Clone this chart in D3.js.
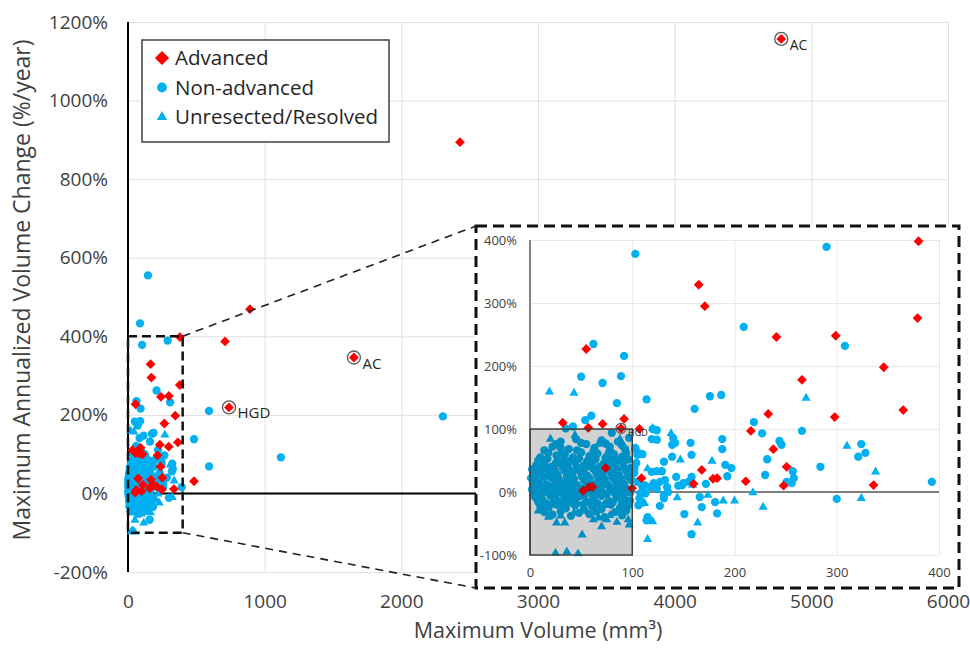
<!DOCTYPE html>
<html>
<head>
<meta charset="utf-8">
<script src="https://cdn.jsdelivr.net/npm/d3@7"></script>
<style>
  body { margin: 0; background: #ffffff; }
  svg text { font-family: 'Open Sans', sans-serif; fill: #404040; }
</style>
</head>
<body>
<div id="chart"></div>
<script>
// ---- data: [max volume (mm3), max annualized volume change (%/year)]
const advancedMain = [[4780, 1157], [2429, 894], [1653, 346], [739, 219], [892, 469], [710, 387], [483, 31]];
const advancedSmall = [
  [55, 227], [165, 329], [171, 295], [380, 398], [379, 276], [241, 246], [299, 248], [346, 198],
  [266, 178], [233, 124], [298, 119], [365, 130], [238, 68], [251, 40], [248, 10], [336, 11],
  [216, 97], [211, 17], [168, 35], [179, 21], [183, 22], [160, 13], [109, 22], [100, 6],
  [107, 100], [32, 110], [57, 102], [71, 108], [92, 116], [89, 101], [74, 38], [52, 2], [58, 8], [61, 8]
];

const nonAdvancedMain = [[146, 555], [88, 433], [593, 210], [483, 138], [1119, 92], [593, 69], [2304, 196]];
const nonAdvancedSmall = [
  [103, 378], [290, 389], [62, 235], [92, 216], [209, 262], [308, 232], [50, 183], [71, 173], [89, 184],
  [85, 141], [114, 147], [161, 132], [176, 152], [187, 154], [42, 104], [54, 114], [60, 121], [80, 94], [35, 101],
  [219, 111], [227, 93], [266, 97], [244, 81], [246, 75], [232, 52], [230, 27], [257, 33], [258, 22], [256, 14],
  [251, 16], [284, 40], [324, 76], [328, 62], [321, 56], [393, 16], [300, -11],
  [188, 84], [188, 68], [191, 43], [197, 38], [193, 25], [183, -34],
  [120, 100], [124, 98], [119, 84], [124, 83], [140, 86], [142, 78], [139, 75], [157, 78], [158, 59], [139, 56], [131, 48],
  [110, 60], [106, 62], [103, 68], [104, 46], [102, 37], [119, 32], [124, 33], [129, 33], [143, 24], [150, 14],
  [155, 16], [158, 24], [132, 19], [127, 16], [134, 8], [135, 0], [131, -5],
  [121, 14], [118, 8], [124, 5], [112, 11], [110, 8], [113, -2], [145, 10], [149, 11], [172, 13], [166, -8],
  [168, -24], [181, -16], [131, -10], [127, -22], [106, -21], [115, -40], [114, -45], [151, -35], [158, -67],
  [103, 70], [105, 59], [102, 30], [105, 16], [107, -10], [110, -17], [108, -2]
];
// dense cloud under 100 mm3
const nonAdvancedBox = [
  [22, 72], [30, 80], [38, 68], [45, 84], [55, 76], [63, 70], [70, 82], [78, 72], [86, 80], [93, 68], [97, 86],
  [26, 76], [50, 78], [74, 77], [90, 74],
  [14, 66], [30, 70], [46, 66], [62, 64], [78, 66], [94, 62],
  [10, 55], [18, 62], [26, 58], [34, 60], [42, 55], [50, 63], [58, 57], [66, 61], [74, 54], [82, 60], [90, 56], [96, 52],
  [8, 50], [17, 53], [25, 45], [33, 52], [40, 50], [48, 53], [56, 49], [64, 52], [72, 45], [80, 52], [87, 50],
  [6, 42], [14, 46], [21, 40], [29, 48], [36, 43], [44, 47], [52, 41], [60, 45], [68, 40], [75, 48], [83, 43], [91, 46], [98, 38],
  [2, 36], [9, 38], [17, 37], [24, 35], [32, 39], [38, 37], [46, 38], [53, 36], [61, 38], [67, 36], [77, 38], [85, 36], [92, 38],
  [4, 30], [11, 27], [19, 33], [27, 28], [34, 34], [41, 29], [49, 32], [56, 26], [64, 33], [71, 29], [79, 31], [87, 27], [94, 34],
  [1, 22], [7, 23], [14, 24], [21, 23], [28, 21], [36, 24], [43, 21], [51, 24], [58, 22], [66, 25], [73, 21], [81, 23], [89, 22], [96, 25],
  [3, 15], [9, 18], [16, 12], [24, 19], [31, 14], [38, 17], [46, 11], [53, 18], [61, 14], [68, 20], [76, 12], [84, 17], [92, 13], [99, 19],
  [5, 9], [12, 8], [19, 9], [26, 10], [33, 8], [40, 9], [48, 6], [55, 10], [63, 8], [70, 9], [78, 8], [86, 9], [93, 7],
  [2, 4], [8, 1], [15, 6], [22, 2], [29, 5], [36, 0], [43, 4], [50, -1], [57, 5], [65, 2], [72, -2], [80, 4], [88, 0], [95, 3],
  [4, -2], [11, -4], [18, -1], [25, -4], [32, -3], [39, -5], [46, -3], [53, -5], [60, -2], [68, -4], [75, -3], [83, -2], [91, -4], [98, -1],
  [5, -8], [12, -12], [20, -6], [27, -14], [34, -9], [41, -13], [48, -7], [55, -15], [62, -10], [70, -6], [77, -14], [85, -9], [93, -12],
  [8, -16], [16, -18], [23, -17], [31, -19], [38, -17], [45, -18], [52, -20], [59, -17], [66, -18], [74, -19], [81, -16], [90, -18], [98, -14],
  [10, -22], [18, -27], [26, -20], [35, -26], [44, -21], [53, -28], [61, -23], [70, -27], [79, -20], [88, -25], [96, -22],
  [14, -32], [30, -31], [48, -33], [65, -31], [83, -32], [94, -30],
  [22, -36], [40, -38], [58, -35], [73, -40], [90, -37]
];

const unresectedSmall = [
  [19, 159], [43, 157], [270, 149], [310, 73], [338, 32], [324, -10], [228, -24], [218, -1], [200, -14], [189, -14],
  [120, 101], [138, 93], [147, 51], [178, 49], [115, 37], [159, 11], [144, -9], [112, -18], [174, -5],
  [120, -47], [164, -49], [115, -75]
];
const unresectedBox = [
  [44, 90], [67, 76], [88, 84], [20, 84], [30, 62], [15, 35], [55, 40], [80, 25], [40, -5], [65, 10], [90, -5],
  [25, 48], [75, 60], [95, 50], [8, -30], [12, -24], [20, -21], [26, -49], [34, -49], [43, -33], [51, -68],
  [62, -44], [67, -41], [75, -44], [78, -37], [88, -29], [97, -52], [96, -44], [25, -97], [36, -95], [47, -98],
  [55, -30], [30, -38], [85, -48], [18, -40], [70, -55]
];

const mainAnnotations  = [{x: 4780, y: 1157, label: 'AC', size: 14}, {x: 1653, y: 346, label: 'AC', size: 15}, {x: 739, y: 219, label: 'HGD', size: 15}];
const insetAnnotations = [{x: 89, y: 101, label: 'HGD', size: 9}];

const mainXTicks  = [0, 1000, 2000, 3000, 4000, 5000, 6000];
const mainYTicks  = [-200, 0, 200, 400, 600, 800, 1000, 1200];
const insetXTicks = [0, 100, 200, 300, 400];
const insetYTicks = [-100, 0, 100, 200, 300, 400];
const zoomRegion  = {x0: 0, x1: 400, y0: -100, y1: 400};
const greyRegion  = {x0: 0, x1: 100, y0: -100, y1: 100};

const seriesNames = ['Advanced', 'Non-advanced', 'Unresected/Resolved'];

const RED  = '#ff0000';
const BLUE = '#00b0f0';

const advanced    = advancedMain.concat(advancedSmall);
const nonAdvanced = nonAdvancedMain.concat(nonAdvancedSmall, nonAdvancedBox);
const unresected  = unresectedSmall.concat(unresectedBox);

let widthContainer  = 970;
let heightContainer = 648;

let svg = d3.select('#chart')
  .append('svg')
  .attr('width', widthContainer)
  .attr('height', heightContainer);

let xScale = d3.scaleLinear().domain([0, 6000]).range([128, 948]);
let yScale = d3.scaleLinear().domain([-200, 1200]).range([572, 22]);

let xInset = d3.scaleLinear().domain([0, 400]).range([530, 939]);
let yInset = d3.scaleLinear().domain([-100, 400]).range([555, 240]);

// marker shapes
const circleSym   = d3.symbol().type(d3.symbolCircle).size(54);
const diamondSym  = d3.symbol().type(d3.symbolSquare).size(48);
const triangleSym = d3.symbol().type(d3.symbolTriangle).size(36);

function drawSeries(layer, pts, sx, sy, sym, color, rotate) {
  layer.append('g')
    .selectAll('path')
    .data(pts)
    .join('path')
    .attr('d', sym)
    .attr('transform', d => `translate(${sx(d[0])},${sy(d[1])})` + (rotate ? ' rotate(45)' : ''))
    .style('fill', color);
}

function drawRing(layer, a, sx, sy, r) {
  layer.append('circle')
    .attr('cx', sx(a.x)).attr('cy', sy(a.y)).attr('r', r)
    .style('fill', 'none').style('stroke', '#595959').style('stroke-width', 1.3);
  layer.append('text')
    .attr('x', sx(a.x) + r + 2)
    .attr('y', sy(a.y) + r + a.size * 0.3)
    .style('font-size', a.size + 'px')
    .style('fill', '#262626')
    .text(a.label);
}

// ---------- main chart ----------
let main = svg.append('g');

// gridlines
main.append('g')
  .attr('transform', `translate(${xScale(0)},0)`)
  .call(d3.axisLeft(yScale).tickValues(mainYTicks).tickSize(-(xScale(6000) - xScale(0))).tickFormat(''))
  .call(g => g.select('.domain').remove())
  .selectAll('line').style('stroke', '#e0e0e0');

main.append('g')
  .attr('transform', `translate(0,${yScale(-200)})`)
  .call(d3.axisBottom(xScale).tickValues(mainXTicks.slice(1)).tickSize(-(yScale(-200) - yScale(1200))).tickFormat(''))
  .call(g => g.select('.domain').remove())
  .selectAll('line').style('stroke', '#e0e0e0');

// tick labels
main.append('g')
  .attr('transform', `translate(${xScale(0)},0)`)
  .call(d3.axisLeft(yScale).tickValues(mainYTicks).tickSize(0).tickPadding(20).tickFormat(d => d + '%'))
  .call(g => g.select('.domain').remove())
  .selectAll('text').style('font-size', '19px').style('font-family', "'Open Sans', sans-serif").style('fill', '#404040');

main.append('g')
  .attr('transform', `translate(0,${yScale(-200)})`)
  .call(d3.axisBottom(xScale).tickValues(mainXTicks).tickSize(0).tickPadding(23).tickFormat(d => d))
  .call(g => g.select('.domain').remove())
  .selectAll('text').style('font-size', '19px').style('font-family', "'Open Sans', sans-serif").style('fill', '#404040');

// axis lines
main.append('line')
  .attr('x1', xScale(0)).attr('x2', xScale(0))
  .attr('y1', yScale(1200)).attr('y2', yScale(-200))
  .style('stroke', '#000').style('stroke-width', 2);
main.append('line')
  .attr('x1', xScale(0)).attr('x2', xScale(6000))
  .attr('y1', yScale(0)).attr('y2', yScale(0))
  .style('stroke', '#000').style('stroke-width', 2);

// axis titles
svg.append('text')
  .attr('x', (xScale(0) + xScale(6000)) / 2)
  .attr('y', 638)
  .style('text-anchor', 'middle')
  .style('font-size', '21.5px')
  .text('Maximum Volume (mm³)');

svg.append('text')
  .attr('transform', 'rotate(-90)')
  .attr('x', -290)
  .attr('y', 30)
  .style('text-anchor', 'middle')
  .style('font-size', '23px')
  .text('Maximum Annualized Volume Change (%/year)');

// points
drawSeries(main, nonAdvanced, xScale, yScale, circleSym, BLUE, false);
drawSeries(main, unresected, xScale, yScale, triangleSym, BLUE, false);
drawSeries(main, advanced, xScale, yScale, diamondSym, RED, true);

mainAnnotations.forEach(a => drawRing(main, a, xScale, yScale, 6.5));

// dashed zoom region
main.append('rect')
  .attr('x', xScale(zoomRegion.x0))
  .attr('y', yScale(zoomRegion.y1))
  .attr('width', xScale(zoomRegion.x1) - xScale(zoomRegion.x0))
  .attr('height', yScale(zoomRegion.y0) - yScale(zoomRegion.y1))
  .style('fill', 'none').style('stroke', '#111').style('stroke-width', 2.5)
  .style('stroke-dasharray', '9,5');

// legend
let legend = svg.append('g');
legend.append('rect')
  .attr('x', 142).attr('y', 40).attr('width', 247).attr('height', 102)
  .style('fill', '#fff').style('stroke', '#404040').style('stroke-width', 1.5);

const legendSym = [
  {sym: d3.symbol().type(d3.symbolSquare).size(100), color: RED, rot: true},
  {sym: d3.symbol().type(d3.symbolCircle).size(75), color: BLUE, rot: false},
  {sym: d3.symbol().type(d3.symbolTriangle).size(45), color: BLUE, rot: false}
];
let legendItem = legend.selectAll('g.item')
  .data(seriesNames)
  .join('g')
  .attr('class', 'item')
  .attr('transform', (d, i) => `translate(162,${58 + i * 29.5})`);

legendItem.append('path')
  .attr('d', (d, i) => legendSym[i].sym())
  .attr('transform', (d, i) => legendSym[i].rot ? 'rotate(45)' : '')
  .style('fill', (d, i) => legendSym[i].color);

legendItem.append('text')
  .attr('x', 13)
  .attr('dy', '0.35em')
  .style('font-size', '20.5px')
  .style('fill', '#262626')
  .text(d => d);

// ---------- inset ----------
const box = {x: 476, y: 226, w: 483, h: 362};
let inset = svg.append('g');

inset.append('rect')
  .attr('x', box.x).attr('y', box.y).attr('width', box.w).attr('height', box.h)
  .style('fill', '#fff');

inset.append('g')
  .attr('transform', `translate(${xInset(0)},0)`)
  .call(d3.axisLeft(yInset).tickValues(insetYTicks).tickSize(-(xInset(400) - xInset(0))).tickFormat(''))
  .call(g => g.select('.domain').remove())
  .selectAll('line').style('stroke', '#e8e8e8');

inset.append('g')
  .attr('transform', `translate(0,${yInset(-100)})`)
  .call(d3.axisBottom(xInset).tickValues(insetXTicks.slice(1)).tickSize(-(yInset(-100) - yInset(400))).tickFormat(''))
  .call(g => g.select('.domain').remove())
  .selectAll('line').style('stroke', '#e8e8e8');

inset.append('g')
  .attr('transform', `translate(${xInset(0)},0)`)
  .call(d3.axisLeft(yInset).tickValues(insetYTicks).tickSize(0).tickPadding(13).tickFormat(d => d + '%'))
  .call(g => g.select('.domain').remove())
  .selectAll('text').style('font-size', '13px').style('font-family', "'Open Sans', sans-serif").style('fill', '#404040');

inset.append('g')
  .attr('transform', `translate(0,${yInset(-100)})`)
  .call(d3.axisBottom(xInset).tickValues(insetXTicks).tickSize(0).tickPadding(13))
  .call(g => g.select('.domain').remove())
  .selectAll('text').style('font-size', '13px').style('font-family', "'Open Sans', sans-serif").style('fill', '#404040');

inset.append('line')
  .attr('x1', xInset(0)).attr('x2', xInset(0))
  .attr('y1', yInset(400)).attr('y2', yInset(-100))
  .style('stroke', '#595959').style('stroke-width', 1.5);
inset.append('line')
  .attr('x1', xInset(0)).attr('x2', xInset(400))
  .attr('y1', yInset(0)).attr('y2', yInset(0))
  .style('stroke', '#595959').style('stroke-width', 1.5);

const inZoom = d => d[0] >= zoomRegion.x0 && d[0] <= zoomRegion.x1 && d[1] >= zoomRegion.y0 && d[1] <= zoomRegion.y1;

drawSeries(inset, nonAdvanced.filter(inZoom), xInset, yInset, circleSym, BLUE, false);
drawSeries(inset, unresected.filter(inZoom), xInset, yInset, triangleSym, BLUE, false);
drawSeries(inset, advanced.filter(inZoom), xInset, yInset, diamondSym, RED, true);

// grey shaded region over the dense cloud
inset.append('rect')
  .attr('x', xInset(greyRegion.x0))
  .attr('y', yInset(greyRegion.y1))
  .attr('width', xInset(greyRegion.x1) - xInset(greyRegion.x0))
  .attr('height', yInset(greyRegion.y0) - yInset(greyRegion.y1))
  .style('fill', '#000').style('fill-opacity', 0.18)
  .style('stroke', '#404040').style('stroke-width', 1.5);

insetAnnotations.forEach(a => drawRing(inset, a, xInset, yInset, 5));

inset.append('rect')
  .attr('x', box.x).attr('y', box.y).attr('width', box.w).attr('height', box.h)
  .style('fill', 'none').style('stroke', '#111').style('stroke-width', 3)
  .style('stroke-dasharray', '11,6');

// connectors from zoom region to inset
svg.append('g')
  .selectAll('line')
  .data([[zoomRegion.y1, box.y], [zoomRegion.y0, box.y + box.h]])
  .join('line')
  .attr('x1', xScale(zoomRegion.x1)).attr('y1', d => yScale(d[0]))
  .attr('x2', box.x).attr('y2', d => d[1])
  .style('stroke', '#222').style('stroke-width', 1.6)
  .style('stroke-dasharray', '8,6');
</script>
</body>
</html>
